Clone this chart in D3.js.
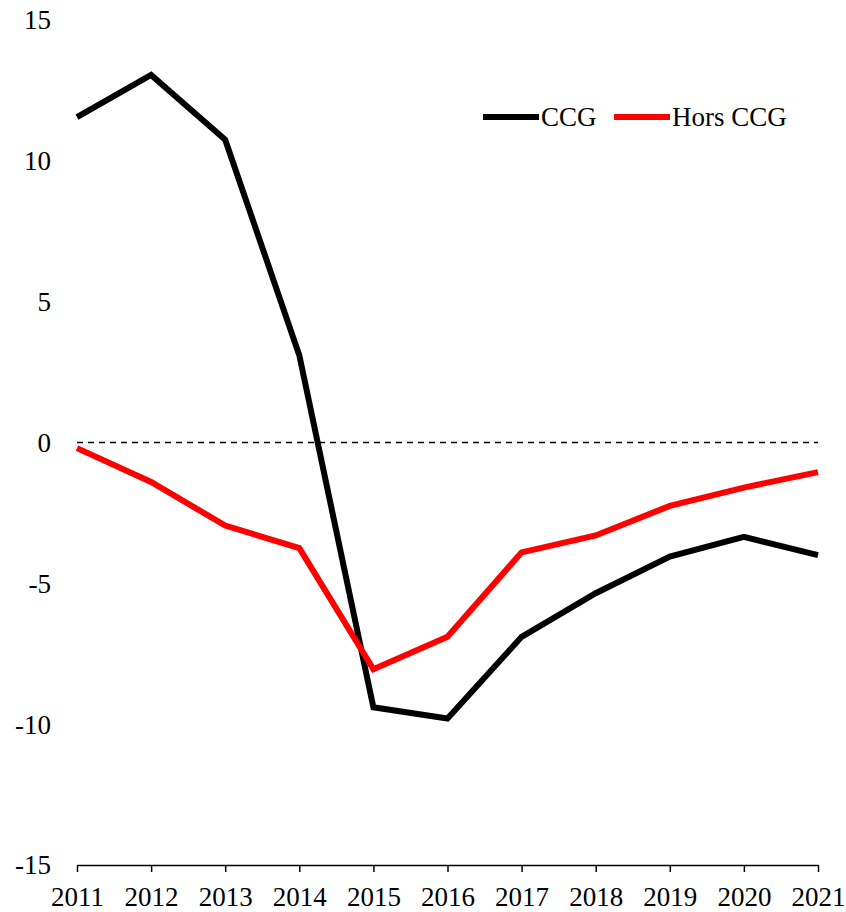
<!DOCTYPE html>
<html>
<head>
<meta charset="utf-8">
<script src="https://cdn.jsdelivr.net/npm/d3@7"></script>
<style>
  body { margin: 0; background: #fff; }
</style>
</head>
<body>
<div id="chart"></div>
<script>
// Years and the two series.
var years = [2011, 2012, 2013, 2014, 2015, 2016, 2017, 2018, 2019, 2020, 2021];
var ccg = [11.55, 13.05, 10.75, 3.1, -9.4, -9.8, -6.9, -5.35, -4.05, -3.35, -4.0];
var horsCcg = [-0.2, -1.4, -2.95, -3.75, -8.05, -6.9, -3.9, -3.3, -2.25, -1.6, -1.05];
var yTicks = [-15, -10, -5, 0, 5, 10, 15];

var series = [
  { name: "CCG", values: ccg, color: "#000000" },
  { name: "Hors CCG", values: horsCcg, color: "#ff0000" }
];

var serif = "'Liberation Serif', 'Times New Roman', 'DejaVu Serif', serif";
var fontSize = 27;

var width = 846, height = 912;
var margin = { top: 20, right: 28, bottom: 47, left: 77 };

var svg = d3.select("#chart").append("svg")
    .attr("width", width)
    .attr("height", height)
    .style("font-family", serif);

var x = d3.scaleLinear()
    .domain([2011, 2021])
    .range([margin.left, width - margin.right]);

var y = d3.scaleLinear()
    .domain([-15, 15])
    .range([height - margin.bottom, margin.top]);

// Bottom axis at y = -15
var xAxis = svg.append("g")
    .attr("transform", "translate(0," + y(-15) + ")")
    .call(d3.axisBottom(x)
      .tickValues(years)
      .tickFormat(d3.format("d"))
      .tickSize(7)
      .tickSizeOuter(0)
      .tickPadding(15));
xAxis.attr("font-family", null).attr("font-size", null);
xAxis.select(".domain").attr("stroke", "#000").attr("stroke-width", 1.5);
xAxis.selectAll(".tick line").attr("stroke", "#000").attr("stroke-width", 1.5);
xAxis.selectAll(".tick text")
    .style("font-family", serif)
    .style("font-size", fontSize + "px")
    .attr("fill", "#000");

// Y labels only, no axis line
svg.append("g").selectAll("text")
    .data(yTicks)
    .enter().append("text")
    .attr("x", 51)
    .attr("y", function(d) { return y(d); })
    .attr("dy", "0.35em")
    .attr("text-anchor", "end")
    .style("font-family", serif)
    .style("font-size", fontSize + "px")
    .attr("fill", "#000")
    .text(function(d) { return d; });

// Dashed zero line
svg.append("line")
    .attr("x1", x(2011))
    .attr("x2", x(2021))
    .attr("y1", y(0))
    .attr("y2", y(0))
    .attr("stroke", "#000")
    .attr("stroke-width", 1.5)
    .attr("stroke-dasharray", "6,5");

var line = d3.line()
    .x(function(d, i) { return x(years[i]); })
    .y(function(d) { return y(d); });

svg.selectAll(".series")
    .data(series)
    .enter().append("path")
    .attr("class", "series")
    .attr("d", function(d) { return line(d.values); })
    .attr("fill", "none")
    .attr("stroke", function(d) { return d.color; })
    .attr("stroke-width", 6)
    .attr("stroke-linejoin", "miter");

// Legend
var legendItems = [
  { name: "CCG", color: "#000000", x: 483 },
  { name: "Hors CCG", color: "#ff0000", x: 614 }
];
var lg = svg.append("g").selectAll("g")
    .data(legendItems)
    .enter().append("g")
    .attr("transform", function(d) { return "translate(" + d.x + ",117)"; });
lg.append("line")
    .attr("x1", 0).attr("x2", 56)
    .attr("stroke", function(d) { return d.color; })
    .attr("stroke-width", 6);
lg.append("text")
    .attr("x", 58)
    .attr("dy", "0.35em")
    .style("font-family", serif)
    .style("font-size", fontSize + "px")
    .attr("fill", "#000")
    .text(function(d) { return d.name; });
</script>
</body>
</html>
